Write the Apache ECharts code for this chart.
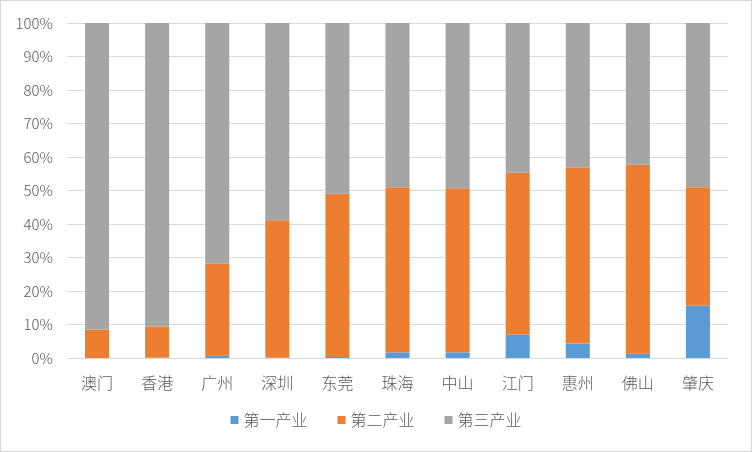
<!DOCTYPE html>
<html>
<head>
<meta charset="utf-8">
<script src="https://cdn.jsdelivr.net/npm/echarts@6/dist/echarts.min.js"></script>
<style>
html,body{margin:0;padding:0;background:#fff;}
#c{width:752px;height:452px;box-sizing:border-box;border:1px solid #d9d9d9;}
</style>
</head>
<body>
<div id="c"></div>
<script>
const categories = ['澳门','香港','广州','深圳','东莞','珠海','中山','江门','惠州','佛山','肇庆'];
const primary   = [0.0, 0.1, 0.7, 0.1, 0.3, 1.7, 1.7, 7.0, 4.3, 1.3, 15.7];
const secondary = [8.5, 9.3, 27.5, 41.0, 48.7, 49.3, 49.0, 48.3, 52.6, 56.4, 35.3];
const tertiary  = [91.5, 90.6, 71.8, 58.9, 51.0, 49.0, 49.3, 44.7, 43.1, 42.3, 49.0];
const seriesNames = ['第一产业','第二产业','第三产业'];

const font = '"Noto Sans CJK SC", "Microsoft YaHei", sans-serif';
const chart = echarts.init(document.getElementById('c'));
const colors = ['#5B9BD5','#ED7D31','#A5A5A5'];
const data = [primary, secondary, tertiary];
chart.setOption({
  animation: false,
  color: colors,
  textStyle: {fontFamily: font},
  grid: {left: 66, right: 23, top: 22, bottom: 93},
  legend: {
    data: seriesNames,
    bottom: 18,
    left: 'center',
    icon: 'rect',
    itemWidth: 8,
    itemHeight: 8,
    itemGap: 30,
    textStyle: {color: '#595959', fontSize: 16, fontWeight: 300, fontFamily: font}
  },
  xAxis: {
    type: 'category',
    data: categories,
    axisLine: {lineStyle: {color: '#d9d9d9'}},
    axisTick: {show: false},
    axisLabel: {color: '#595959', fontSize: 16, fontWeight: 300, margin: 17, fontFamily: font}
  },
  yAxis: {
    type: 'value',
    min: 0, max: 100, interval: 10,
    axisLine: {show: false},
    axisTick: {show: false},
    splitLine: {lineStyle: {color: '#d9d9d9'}},
    axisLabel: {color: '#595959', fontSize: 15, fontWeight: 300, margin: 14, formatter: '{value}%', fontFamily: font}
  },
  series: seriesNames.map((n, i) => ({
    name: n,
    type: 'bar',
    stack: 'total',
    barWidth: '40%',
    data: data[i]
  }))
});
</script>
</body>
</html>
